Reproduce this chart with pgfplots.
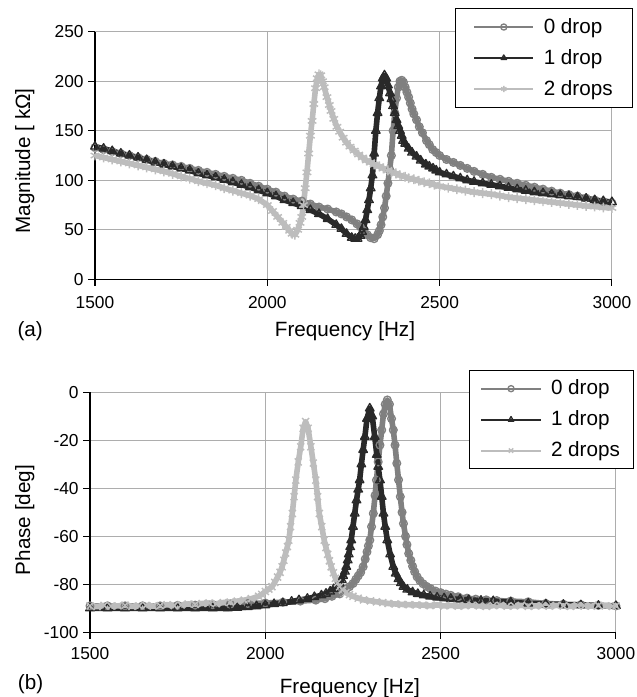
\documentclass[border=0pt]{standalone}
\usepackage{fontspec}
\setmainfont{Liberation Sans}
\usepackage{pgfplots}
\pgfplotsset{compat=1.18}
\definecolor{cz}{gray}{0.50}
\definecolor{co}{gray}{0.16}
\definecolor{ct}{gray}{0.74}
\definecolor{gridc}{gray}{0.68}

\pgfplotsset{
  myaxis/.style={
    scale only axis,
    axis lines=left,
    axis line style={-, line width=0.9pt, black},
    tick align=outside,
    major tick length=5pt,
    tick style={black, line width=0.8pt},
    grid=major,
    major grid style={gridc, line width=0.8pt},
    xmin=1500, xmax=3000,
    xtick={1500,2000,2500,3000},
    xticklabels={1500,2000,2500,3000},
    tick label style={font=\fontsize{13}{15}\selectfont},
    clip=false,
    legend cell align=left,
    legend style={font=\fontsize{15.5}{18}\selectfont, draw=black, line width=0.8pt,
      fill=white, inner xsep=13pt, inner ysep=5pt, row sep=6pt, column sep=5pt,
      nodes={inner sep=2pt, text depth=0.2em}},
    legend image code/.code={\draw[line width=1.6pt, mark size=2.3pt, mark repeat=2, mark phase=2] plot coordinates {(0cm,0cm) (0.78cm,0cm) (1.56cm,0cm)};},
  },
  s0/.style={cz, line width=4.2pt, line join=round, mark=o, mark size=2.9pt, mark options={line width=1pt, solid}},
  s1/.style={co, line width=4.2pt, line join=round, mark=triangle, mark size=3.7pt, mark options={line width=1pt, solid}},
  s2a/.style={ct, line width=4.2pt, line join=round, mark=asterisk, mark size=3.7pt, mark options={line width=1.1pt, solid}},
  s2b/.style={ct, line width=4.2pt, line join=round, mark=x, mark size=3.7pt, mark options={line width=1.1pt, solid}},
}

\pgfplotstableread{
f v
1500 133
1525 131
1550 129
1575 127
1600 125
1625 123
1650 121
1675 119
1700 117
1725 115.5
1750 114
1775 112
1800 110
1825 108
1850 106
1875 104
1900 102
1925 100
1950 97
1975 94
2000 91
2025 88
2050 84
2075 81
2100 79
2125 76
2150 73
2175 71
2200 68
2215 66
2230 63
2245 60
2260 56
2270 53
2280 49
2290 45
2300 42
2310 41
2320 45
2325 49
2330 55
2335 63
2340 72
2345 84
2350 97
2355 111
2360 125
2365 150
2370 168
2375 183
2380 194
2385 200
2390 201
2395 199
2400 194
2405 189
2410 184
2415 178
2420 172
2425 167
2433 161
2441 154
2450 148
2462 140
2470 136
2480 131
2490 128
2500 125
2520 121
2540 118
2560 115
2580 112
2600 109
2625 106
2650 103
2675 101
2700 99
2725 97
2750 95
2775 93
2800 91
2825 89
2850 87
2875 85.5
2900 84
2925 82
2950 80
2975 78.5
3000 77
}\magzero

\pgfplotstableread{
f v
1500 134
1525 132
1550 129.5
1575 127
1600 125
1625 123
1650 120.5
1675 118
1700 116
1725 114
1750 112
1775 110
1800 107
1825 105
1850 103
1875 100.5
1900 98
1925 95.5
1950 93
1975 90
2000 87
2025 84
2050 80
2075 77
2100 74
2125 70
2150 66
2175 61
2200 55
2215 51
2230 46
2245 42
2255 41
2262 41
2270 44
2275 48
2280 53
2285 60
2290 70
2295 80
2300 92
2305 105
2310 127
2315 150
2320 168
2325 183
2330 195
2335 203
2340 206
2345 203
2350 196
2356 188
2360 182
2365 175
2370 168
2375 161
2380 155
2385 150
2390 145
2394 140
2400 137
2410 132
2420 128
2433 124
2445 120
2460 116
2470 114
2481 112
2490 110
2500 108
2520 106
2540 104
2560 102
2580 100
2600 98.5
2625 97
2650 95.5
2675 94
2700 92.5
2725 91
2750 89.5
2775 88
2800 87
2825 86
2850 85
2875 84
2900 83
2925 81.5
2950 80
2975 79
3000 78
}\magone

\pgfplotstableread{
f v
1500 125
1525 123
1550 121
1575 119
1600 117
1625 115
1650 113
1675 111
1700 109
1725 106.5
1750 104
1775 101.5
1800 99
1825 97
1850 95
1875 92
1900 89.5
1925 87
1950 84.5
1975 81
2000 75
2015 69
2030 63
2045 57
2055 53
2065 49
2072 46
2080 45
2088 50
2095 57
2100 63
2105 75
2110 92
2115 108
2120 127
2125 145
2130 160
2135 177
2140 193
2145 203
2150 207
2155 206
2160 200
2165 194
2173 184
2180 176
2185 170
2193 162
2202 154
2210 149
2220 143
2230 138
2240 134
2252 130
2265 126
2276 123
2288 120
2300 118
2310 116
2325 114
2337 112
2350 110
2360 108.5
2373 107
2385 105
2400 103.5
2410 102
2425 101
2440 99.5
2455 98
2470 97
2485 95.5
2500 94
2525 92.5
2550 91
2575 89.5
2600 88
2625 87
2650 86
2675 84.5
2700 83
2725 82
2750 81
2775 80
2800 79
2825 78
2850 77
2875 76
2900 75
2925 74
2950 73.5
2975 72.5
3000 72
}\magtwo

\pgfplotstableread{
f v
1500 -89
1550 -89
1600 -89
1650 -89
1700 -89
1750 -88.8
1800 -88.7
1850 -88.5
1900 -88.3
1950 -88
2000 -87.8
2050 -87.5
2100 -87
2144 -86.6
2170 -86
2190 -85
2212 -84
2230 -82
2240 -81
2250 -79.7
2258 -78
2265 -76.5
2272 -75
2279 -72.7
2285 -69.5
2290 -66.5
2294 -64
2298 -61.6
2303 -56
2308 -50.5
2313 -43
2317 -36.6
2322 -29
2327 -22
2332 -15.7
2337 -9
2342 -5
2348 -3.2
2354 -5
2360 -11
2365 -15.7
2370 -22
2375 -29.6
2380 -36.5
2385 -43.5
2390 -50
2394 -54.7
2400 -60
2404 -63.5
2409 -67.2
2415 -70
2420 -72.5
2426 -74.8
2433 -76.9
2441 -78.5
2450 -79.8
2460 -80.9
2471 -81.8
2485 -82.8
2500 -83.5
2515 -84.1
2529 -84.6
2550 -85.2
2575 -85.8
2600 -86.2
2630 -86.5
2660 -86.8
2700 -87
2750 -87.3
2800 -88
2850 -88.3
2900 -88.5
2950 -88.8
3000 -89
}\phzero

\pgfplotstableread{
f v
1500 -90
1550 -90
1600 -90
1650 -90
1700 -90
1750 -90
1800 -90
1850 -90
1893 -90
1920 -89.8
1950 -89.5
1975 -89.1
2000 -88.7
2025 -88.2
2050 -87.8
2075 -87.2
2096 -86.6
2120 -86
2140 -85.3
2160 -84.6
2173 -83.9
2185 -83
2195 -82
2205 -80.8
2212 -79.7
2218 -78.2
2222 -76.5
2227 -74.7
2231 -72.7
2235 -70
2238 -67.5
2242 -64.5
2245 -61.6
2250 -56
2255 -50.5
2260 -45
2265 -40.5
2269 -36.6
2274 -30
2279 -24
2284 -18.5
2290 -11
2298 -6.7
2305 -10
2312 -18.5
2318 -26
2322 -31
2327 -36.6
2332 -43.5
2337 -50.5
2342 -56
2348 -61.6
2356 -67.5
2365 -72.7
2372 -75.5
2380 -77.8
2387 -79.5
2394 -81
2405 -82.2
2420 -83.3
2435 -84
2452 -84.6
2470 -85.1
2490 -85.5
2510 -85.8
2529 -86
2555 -86.3
2580 -86.5
2615 -86.8
2650 -87
2700 -87.5
2750 -88
2800 -88.3
2850 -88.5
2900 -88.7
2950 -88.9
3000 -89
}\phone

\pgfplotstableread{
f v
1500 -89
1520 -89.3
1540 -88.8
1560 -89.1
1580 -89
1600 -88.7
1620 -89.2
1640 -89
1660 -88.8
1680 -89.1
1700 -88.9
1720 -88.5
1740 -88.9
1760 -88.6
1780 -88.2
1800 -88.4
1820 -88
1840 -87.8
1860 -88.1
1880 -87.6
1900 -87.4
1920 -87
1940 -86.6
1960 -86
1981 -85
1990 -84.2
2000 -83
2010 -82
2019 -81
2027 -79.2
2035 -77
2042 -75
2048 -72.7
2053 -70
2058 -67
2063 -64.3
2067 -61.6
2072 -56
2077 -50.5
2082 -43.5
2087 -36.6
2094 -29
2101 -22.7
2108 -15
2115 -12.2
2122 -15
2130 -22.7
2137 -29.5
2144 -36.6
2149 -43.5
2154 -50.5
2161 -56
2168 -61.6
2173 -64.7
2178 -67.5
2183 -70.2
2188 -72.7
2194 -75.2
2200 -77.5
2206 -79.4
2212 -81
2220 -82.3
2230 -83.5
2240 -84.3
2250 -85
2265 -85.8
2280 -86.5
2300 -86.9
2317 -87.3
2335 -87.6
2350 -88
2370 -88.2
2390 -88.4
2410 -88.5
2430 -88.6
2450 -88.7
2470 -88.9
2490 -88.6
2510 -89
2530 -88.8
2550 -89.1
2570 -88.9
2590 -88.7
2610 -89
2630 -89.2
2650 -88.9
2670 -88.8
2690 -89.1
2710 -89
2730 -88.8
2750 -89.2
2770 -89
2790 -88.9
2810 -89.1
2830 -88.8
2850 -89
2870 -89.2
2890 -88.9
2910 -89
2930 -89.1
2950 -88.8
2970 -89
2990 -89.2
3000 -89
}\phtwo

\begin{document}
\begin{tikzpicture}
\useasboundingbox (-71.25pt,-313.3pt) rectangle (406.5pt,209.5pt);

% ---------- (a) Magnitude ----------
\begin{axis}[myaxis,
  at={(0pt,0pt)}, anchor=south west,
  width=387.75pt, height=185.7pt,
  ymin=0, ymax=250,
  ytick={0,50,100,150,200,250},
  yticklabels={0,50,100,150,200,250},
  xticklabel style={yshift=-4.5pt},
  every axis x label/.style={at={(axis description cs:0.4836,-0.232)}, anchor=base, font=\fontsize{15.5}{18}\selectfont},
  every axis y label/.style={at={(axis description cs:-0.1257,0.478)}, anchor=base, rotate=90, font=\fontsize{15.5}{18}\selectfont},
  xlabel={Frequency [Hz]},
  ylabel={Magnitude [ kΩ]},
  legend style={at={(1.0412,1.0945)}, anchor=north east},
]
\addplot[s0] table[x=f,y=v] {\magzero};
\addlegendentry{0 drop}
\addplot[s1] table[x=f,y=v] {\magone};
\addlegendentry{1 drop}
\addplot[s2a] table[x=f,y=v] {\magtwo};
\addlegendentry{2 drops}
\node[anchor=base west, font=\fontsize{15.5}{18}\selectfont] at (rel axis cs:-0.159,-0.232) {(a)};
\end{axis}

% ---------- (b) Phase ----------
\begin{axis}[myaxis,
  at={(-3.75pt,-264.75pt)}, anchor=south west,
  width=394.5pt, height=180pt,
  ymin=-100, ymax=0,
  ytick={-100,-80,-60,-40,-20,0},
  yticklabels={-100,-80,-60,-40,-20,0},
  xticklabel style={yshift=-2.5pt},
  every axis x label/.style={at={(axis description cs:0.494,-0.256)}, anchor=base, font=\fontsize{15.5}{18}\selectfont},
  every axis y label/.style={at={(axis description cs:-0.114,0.468)}, anchor=base, rotate=90, font=\fontsize{15.5}{18}\selectfont},
  xlabel={Frequency [Hz]},
  ylabel={Phase [deg]},
  legend style={at={(1.034,1.093)}, anchor=north east, inner xsep=8pt},
]
\addplot[s0] table[x=f,y=v] {\phzero};
\addlegendentry{0 drop}
\addplot[s1] table[x=f,y=v] {\phone};
\addlegendentry{1 drop}
\addplot[s2b] table[x=f,y=v] {\phtwo};
\addlegendentry{2 drops}
\node[anchor=base west, font=\fontsize{15.5}{18}\selectfont] at (rel axis cs:-0.146,-0.240) {(b)};
\end{axis}
\end{tikzpicture}
\end{document}
